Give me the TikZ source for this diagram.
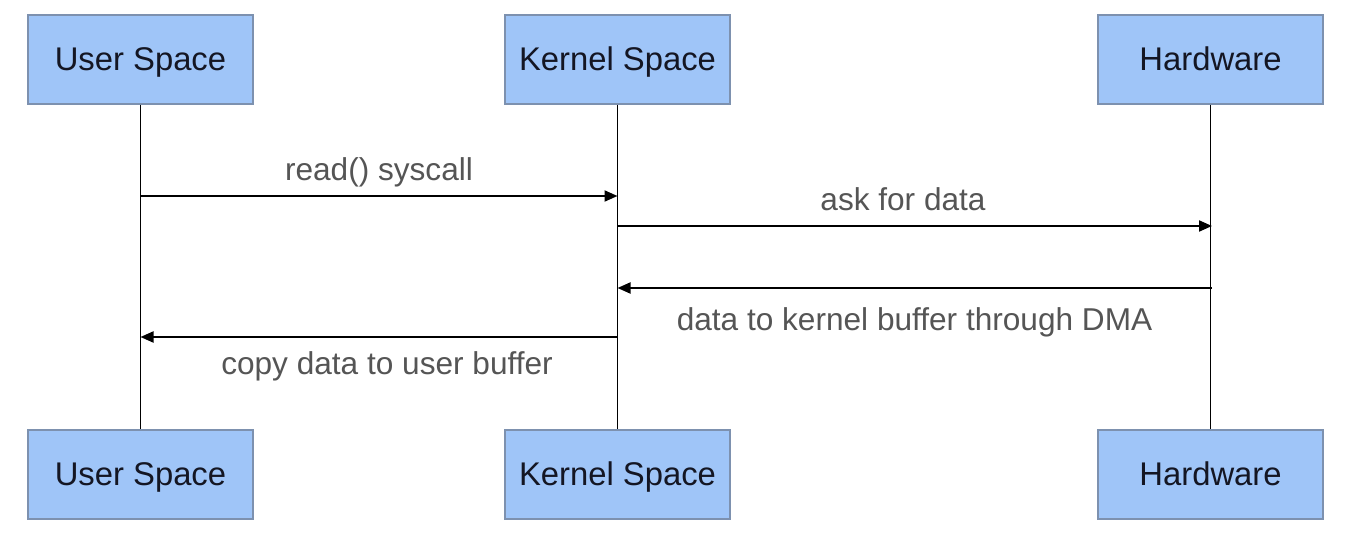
\documentclass[tikz,border=0pt]{standalone}
\usepackage{fontspec}
\setmainfont{Liberation Sans}
\usepackage{xcolor}
\usetikzlibrary{arrows.meta,positioning}
\definecolor{boxfill}{RGB}{159,197,248}
\definecolor{boxline}{RGB}{125,145,175}
\definecolor{labelgray}{RGB}{85,85,85}
\definecolor{boxtext}{RGB}{20,22,35}

\begin{document}
\begin{tikzpicture}[
    x=0.5pt, y=-0.5pt,
    actor/.style={rectangle, draw=boxline, fill=boxfill, text=boxtext, minimum width=112.5pt, minimum height=44.5pt, text height=11.7pt, text depth=0.3pt, line width=.6pt, font=\fontsize{16.4}{20}\selectfont},
    lifeline/.style={draw=black, line width=.7pt},
    msg/.style={-{Triangle[length=6.5pt, width=5.5pt]}, draw=black, line width=1pt},
    msglabel/.style={anchor=base, text=labelgray, font=\fontsize{15.8}{19}\selectfont}
]
    \useasboundingbox[fill=white] (0,0) rectangle (1347,539);

    % participants, top and bottom
    \node[actor] (usertop) at (140.5,59.5) {User Space};
    \node[actor] (kerneltop) at (617.5,59.5) {Kernel Space};
    \node[actor] (hwtop) at (1210.5,59.5) {Hardware};
    \node[actor] (userbot) at (140.5,474.5) {User Space};
    \node[actor] (kernelbot) at (617.5,474.5) {Kernel Space};
    \node[actor] (hwbot) at (1210.5,474.5) {Hardware};

    % lifelines
    \draw[lifeline] (usertop.south) -- (userbot.north);
    \draw[lifeline] (kerneltop.south) -- (kernelbot.north);
    \draw[lifeline] (hwtop.south) -- (hwbot.north);

    % message ends on the lifelines
    \coordinate (u1) at (140.5,196);
    \coordinate (k1) at (617.5,196);
    \coordinate (k2) at (617.5,226);
    \coordinate (h2) at (1212,226);
    \coordinate (h3) at (1212,288);
    \coordinate (k3) at (617.5,288);
    \coordinate (k4) at (617.5,337);
    \coordinate (u4) at (140.5,337);

    \draw[msg] (u1) -- (k1);
    \draw[msg] (k2) -- (h2);
    \draw[msg] (h3) -- (k3);
    \draw[msg] (k4) -- (u4);

    \node[msglabel] (lread) at (379,181) {read() syscall};
    \node[msglabel] (lask) at (903,211) {ask for data};
    \node[msglabel] (ldma) at (914.5,330) {data to kernel buffer through DMA};
    \node[msglabel] (lcopy) at (387,374.5) {copy data to user buffer};

\end{tikzpicture}
\end{document}
